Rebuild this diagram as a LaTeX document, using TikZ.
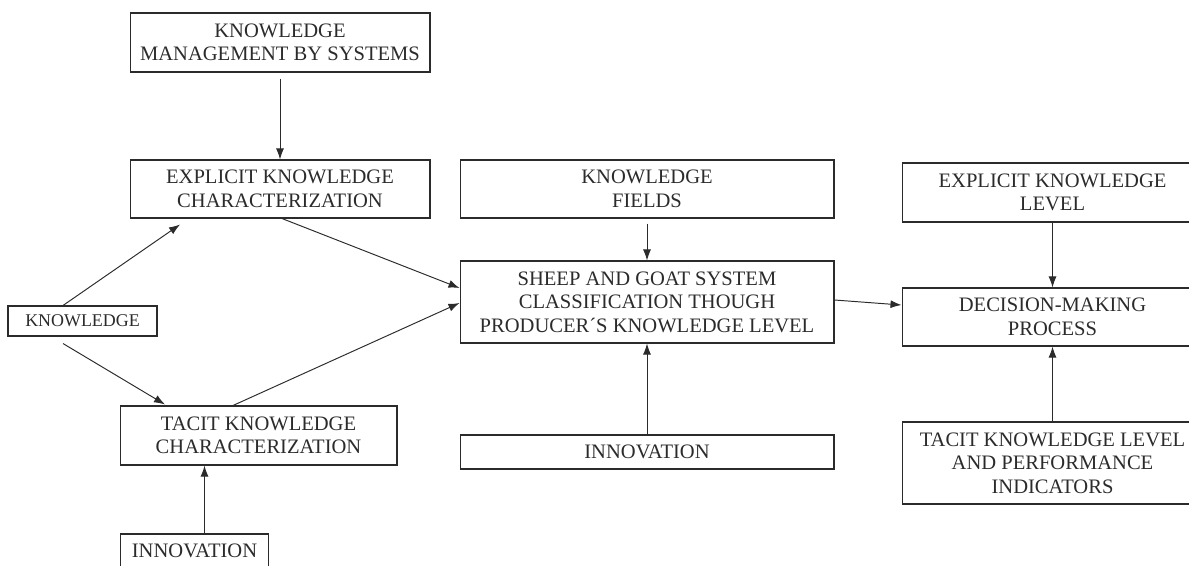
\documentclass[tikz,border=0pt]{standalone}
\usepackage{fontspec}
\setmainfont{Liberation Serif}
\usetikzlibrary{arrows.meta,calc}
\definecolor{ink}{HTML}{2B2B2B}
\tikzset{
  box/.style={draw=ink, line width=0.6pt, align=center, inner sep=0pt,
    font=\fontsize{11.7}{13.4}\selectfont, text=ink},
  arr/.style={draw=ink, line width=0.55pt, -{Latex[length=2.2mm,width=1.6mm]}},
}
\begin{document}
\begin{tikzpicture}[x=0.02cm,y=-0.02cm]
\useasboundingbox (0,0) rectangle (1189,565);
\clip (0,0) rectangle (1189,565);
\node[box, minimum width=6cm, minimum height=1.18cm] (kms) at (280,42.5) {KNOWLEDGE\\MANAGEMENT BY SYSTEMS};
\node[box, minimum width=6cm, minimum height=1.16cm] (expc) at (280,189) {EXPLICIT KNOWLEDGE\\CHARACTERIZATION};
\node[box, minimum width=7.48cm, minimum height=1.16cm] (kf) at (647,189) {KNOWLEDGE\\FIELDS};
\node[box, minimum width=7.48cm, minimum height=1.64cm] (sheep) at (647,302) {SHEEP AND GOAT SYSTEM\\CLASSIFICATION THOUGH\\PRODUCER´S KNOWLEDGE LEVEL};
\node[box, minimum width=7.48cm, minimum height=0.68cm] (innm) at (647,452) {INNOVATION};
\node[box, minimum width=6.02cm, minimum height=1.18cm] (expl) at (1052.5,192.5) {EXPLICIT KNOWLEDGE\\LEVEL};
\node[box, minimum width=6.02cm, minimum height=1.16cm] (dec) at (1052.5,317) {DECISION-MAKING\\PROCESS};
\node[box, minimum width=6.02cm, minimum height=1.64cm] (tacl) at (1052.5,463) {TACIT KNOWLEDGE LEVEL\\AND PERFORMANCE\\INDICATORS};
\node[box, minimum width=2.98cm, minimum height=0.6cm, font=\fontsize{10.2}{12}\selectfont] (know) at (82.5,321) {KNOWLEDGE};
\node[box, minimum width=5.54cm, minimum height=1.18cm] (tacc) at (258.5,435.5) {TACIT KNOWLEDGE\\CHARACTERIZATION};
\node[box, minimum width=2.96cm, minimum height=0.68cm] (innb) at (194.5,551) {INNOVATION};

\draw[arr] ([yshift=-0.12cm]kms.south) -- (expc.north);
\draw[arr] ([yshift=-0.1cm]kf.south) -- (sheep.north);
\draw[arr] (innm.north) -- (sheep.south);
\draw[arr] (expl.south) -- (dec.north);
\draw[arr] (tacl.north) -- (dec.south);
\draw[arr] ([xshift=0.2cm]innb.north) -- ([xshift=0.2cm]innb.north |- tacc.south);
\draw[arr] ([xshift=-0.39cm]know.north) -- ([xshift=-2cm,yshift=-0.12cm]expc.south);
\draw[arr] ([xshift=-0.39cm,yshift=-0.14cm]know.south) -- ([xshift=-1.87cm,yshift=0.02cm]tacc.north);
\draw[arr] ([xshift=0.04cm]expc.south) -- ([yshift=0.28cm]sheep.west);
\draw[arr] ([xshift=-0.51cm]tacc.north) -- ([yshift=-0.02cm]sheep.west);
\draw[arr] ([yshift=0.04cm]sheep.east) -- ([yshift=0.24cm]dec.west);
\end{tikzpicture}
\end{document}
